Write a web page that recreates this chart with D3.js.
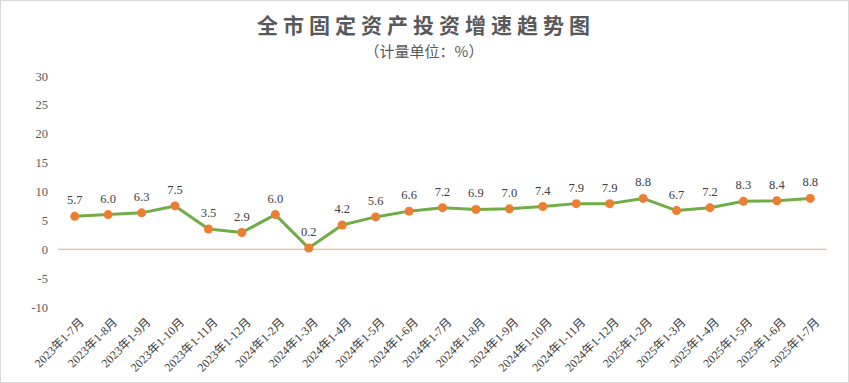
<!DOCTYPE html>
<html><head><meta charset="utf-8">
<script src="https://cdn.jsdelivr.net/npm/d3@7/dist/d3.min.js"></script>
<style>body{margin:0;background:#fff}svg{display:block}</style>
</head><body>
<svg id="c" width="849" height="383"></svg>
<script>
const categories = ["2023年1-7月","2023年1-8月","2023年1-9月","2023年1-10月","2023年1-11月","2023年1-12月","2024年1-2月","2024年1-3月","2024年1-4月","2024年1-5月","2024年1-6月","2024年1-7月","2024年1-8月","2024年1-9月","2024年1-10月","2024年1-11月","2024年1-12月","2025年1-2月","2025年1-3月","2025年1-4月","2025年1-5月","2025年1-6月","2025年1-7月"];
const values = [5.7,6.0,6.3,7.5,3.5,2.9,6.0,0.2,4.2,5.6,6.6,7.2,6.9,7.0,7.4,7.9,7.9,8.8,6.7,7.2,8.3,8.4,8.8];
const yTicks = [30,25,20,15,10,5,0,-5,-10];

const svg = d3.select("#c");
svg.append("rect").attr("x",0.5).attr("y",0.5).attr("width",848).attr("height",382)
  .attr("fill","#fff").attr("stroke","#d9d9d9");

svg.append("text").attr("x",426).attr("y",33).attr("text-anchor","middle")
  .attr("font-family","'Noto Sans CJK SC'").attr("font-weight","bold").attr("font-size",21)
  .attr("fill","#595959").attr("letter-spacing",5).text("全市固定资产投资增速趋势图");
svg.append("text").attr("x",424).attr("y",57).attr("text-anchor","middle")
  .attr("font-family","'Noto Sans CJK SC'").attr("font-size",15)
  .attr("fill","#595959").text("（计量单位：%）");

const x = d3.scaleBand().domain(categories).range([58,827]);
const y = d3.scaleLinear().domain([-10,30]).range([307,76]);

const ya = svg.append("g").attr("transform","translate(48,0)")
  .call(d3.axisLeft(y).tickValues(yTicks).tickSize(0).tickPadding(0).tickFormat(d => String(d)));
ya.select(".domain").remove();
ya.selectAll("text").attr("font-family","'Liberation Serif'").attr("font-size",12.5).attr("fill","#595959");

svg.append("line").attr("x1",58).attr("x2",827).attr("y1",y(0)).attr("y2",y(0))
  .attr("stroke","#F4A46A").attr("stroke-width",1);

const xa = svg.append("g").attr("transform","translate(0,317)")
  .call(d3.axisBottom(x).tickSize(0).tickPadding(0));
xa.select(".domain").remove();
xa.selectAll("text").attr("font-family","'Liberation Serif', 'Noto Sans CJK SC'").attr("font-size",12)
  .attr("fill","#404040").attr("text-anchor","end")
  .attr("transform","translate(4,0) rotate(-45)").attr("dy","0.7em").attr("dx",0).attr("y",0);

const cx = d => x(d) + x.bandwidth()/2;
const line = d3.line().x((d,i)=>cx(categories[i])).y(d=>y(d));
svg.append("path").datum(values).attr("d",line).attr("fill","none")
  .attr("stroke","#70AD47").attr("stroke-width",3).attr("stroke-linejoin","round");

svg.selectAll("circle.p").data(values).join("circle")
  .attr("cx",(d,i)=>cx(categories[i])).attr("cy",d=>y(d)).attr("r",4.5).attr("fill","#ED7D31");

svg.selectAll("text.lbl").data(values).join("text").attr("class","lbl")
  .attr("x",(d,i)=>cx(categories[i])).attr("y",d=>y(d)-12).attr("text-anchor","middle")
  .attr("font-family","'Liberation Serif'").attr("font-size",12.5).attr("fill","#404040")
  .text(d=>d.toFixed(1));
</script>
</body></html>
